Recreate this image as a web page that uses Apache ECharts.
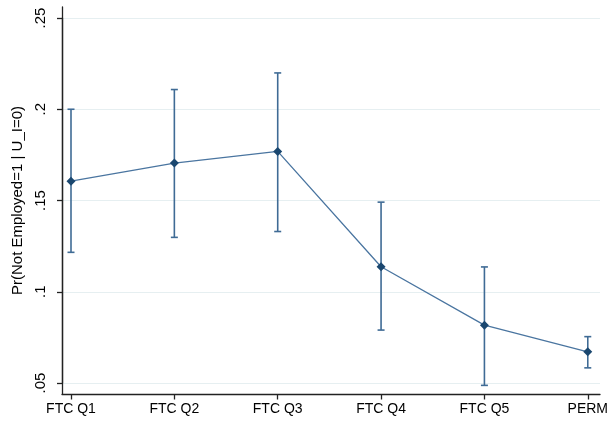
<!DOCTYPE html>
<html>
<head>
<meta charset="utf-8">
<script src="https://cdn.jsdelivr.net/npm/echarts@6/dist/echarts.min.js"></script>
<style>html,body{margin:0;padding:0;background:#fff;}#c{width:611px;height:424px;}</style>
</head>
<body>
<div id="c"></div>
<script>
var categories = ['FTC Q1', 'FTC Q2', 'FTC Q3', 'FTC Q4', 'FTC Q5', 'PERM'];
var estimates = [0.1606, 0.1705, 0.1769, 0.1137, 0.0817, 0.0671];
var ciLower = [0.1216, 0.1298, 0.1330, 0.0790, 0.0487, 0.0583];
var ciUpper = [0.2000, 0.2108, 0.2199, 0.1491, 0.1136, 0.0754];
var yTickLabels = ['.05', '.1', '.15', '.2', '.25'];
var yTitle = 'Pr(Not Employed=1 | U_I=0)';

var FONT = '"Liberation Sans", Arial, sans-serif';
var NAVY = '#1a476f';
var LINE = '#4a75a0';
var CI = '#3f6b95';

var ciData = categories.map(function (c, i) { return [i, ciLower[i], ciUpper[i]]; });

var chart = echarts.init(document.getElementById('c'), null, {renderer: 'canvas'});
chart.setOption({
  backgroundColor: '#ffffff',
  animation: false,
  grid: [
    {left: 62, right: 11, top: 7, bottom: 30},
    {left: 62, right: 11, top: 18, bottom: 41},
    {left: 71, right: 21, top: 18, bottom: 41}
  ],
  xAxis: [
    {gridIndex: 0, type: 'value', min: 0, max: 1,
      axisLine: {show: true, lineStyle: {color: '#222', width: 1.3}},
      axisTick: {show: false}, axisLabel: {show: false}, splitLine: {show: false}},
    {gridIndex: 1, type: 'value', min: 0, max: 1, show: false},
    {gridIndex: 2, type: 'category', data: categories, boundaryGap: false, offset: 11.5,
      axisLine: {show: false},
      axisTick: {show: true, length: 5, lineStyle: {color: '#222', width: 1.3}},
      axisLabel: {fontFamily: FONT, fontSize: 14, color: '#000', margin: 8},
      splitLine: {show: false}}
  ],
  yAxis: [
    {gridIndex: 0, type: 'value', min: 0, max: 1,
      axisLine: {show: true, lineStyle: {color: '#222', width: 1.3}},
      axisTick: {show: false}, axisLabel: {show: false}, splitLine: {show: false}},
    {gridIndex: 1, type: 'value', min: 0.05, max: 0.25, interval: 0.05,
      axisLine: {show: true, lineStyle: {color: '#222', width: 1.3}},
      axisTick: {show: true, inside: false, length: 5, lineStyle: {color: '#222', width: 1.3}},
      axisLabel: {fontFamily: FONT, fontSize: 15, color: '#000', rotate: 90, margin: 14,
        formatter: function (v) {
          var idx = Math.round((v - 0.05) / 0.05);
          return yTickLabels[idx] || '';
        }},
      splitLine: {show: true, lineStyle: {color: '#e6eff1', width: 1}},
      name: yTitle, nameLocation: 'middle', nameGap: 35, nameRotate: 90,
      nameTextStyle: {fontFamily: FONT, fontSize: 15, color: '#000'}},
    {gridIndex: 2, type: 'value', min: 0.05, max: 0.25, interval: 0.05, show: false}
  ],
  series: [
    {
      type: 'custom', xAxisIndex: 2, yAxisIndex: 2, data: ciData, z: 3,
      encode: {x: 0, y: [1, 2]},
      renderItem: function (params, api) {
        var x = api.value(0);
        var lo = api.coord([x, api.value(1)]);
        var hi = api.coord([x, api.value(2)]);
        var hw = 3.5;
        var st = {stroke: CI, lineWidth: 1.6, fill: null};
        return {type: 'group', children: [
          {type: 'line', shape: {x1: lo[0], y1: lo[1], x2: hi[0], y2: hi[1]}, style: st},
          {type: 'line', shape: {x1: lo[0] - hw, y1: lo[1], x2: lo[0] + hw, y2: lo[1]}, style: st},
          {type: 'line', shape: {x1: hi[0] - hw, y1: hi[1], x2: hi[0] + hw, y2: hi[1]}, style: st}
        ]};
      }
    },
    {
      type: 'line', xAxisIndex: 2, yAxisIndex: 2, data: estimates, z: 4,
      symbol: 'diamond', symbolSize: 9, showSymbol: true,
      lineStyle: {color: LINE, width: 1.3},
      itemStyle: {color: NAVY, borderWidth: 0}
    }
  ]
});
</script>
</body>
</html>
